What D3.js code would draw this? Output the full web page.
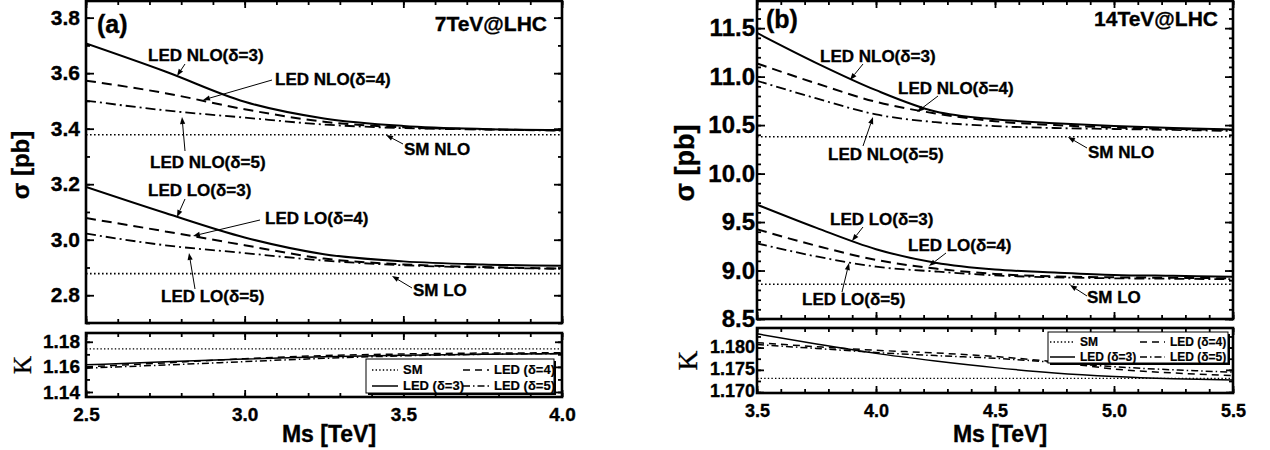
<!DOCTYPE html>
<html>
<head>
<meta charset="utf-8">
<script src="https://cdn.jsdelivr.net/npm/d3@7"></script>
<style>
body { margin: 0; background: #fff; }
text { font-family: "Liberation Sans", Arial, sans-serif; font-weight: bold; fill: #000; stroke: #000; stroke-width: 0.35px; }
</style>
</head>
<body>
<svg id="chart" width="1270" height="450"></svg>
<script>
// ---- panel (a): 7 TeV ----
const msA    = [2.5, 2.75, 3.0, 3.25, 3.5, 3.75, 4.0];
const nloA3  = [3.707, 3.606, 3.497, 3.437, 3.410, 3.399, 3.395];
const nloA4  = [3.573, 3.528, 3.470, 3.425, 3.405, 3.398, 3.394];
const nloA5  = [3.501, 3.466, 3.440, 3.415, 3.402, 3.397, 3.393];
const smNloA = [3.378, 3.378, 3.378, 3.378, 3.378, 3.378, 3.378];
const loA3   = [3.190, 3.096, 3.008, 2.948, 2.922, 2.911, 2.906];
const loA4   = [3.078, 3.030, 2.980, 2.932, 2.911, 2.902, 2.896];
const loA5   = [3.022, 2.980, 2.952, 2.925, 2.908, 2.900, 2.895];
const smLoA  = [2.878, 2.878, 2.878, 2.878, 2.878, 2.878, 2.878];
const kA3    = [1.1616, 1.1640, 1.1662, 1.1680, 1.1692, 1.1700, 1.1705];
const kA4    = [1.1600, 1.1632, 1.1665, 1.1690, 1.1703, 1.1710, 1.1712];
const kA5    = [1.1590, 1.1615, 1.1642, 1.1668, 1.1688, 1.1700, 1.1706];
const kSmA   = [1.1744, 1.1744, 1.1744, 1.1744, 1.1744, 1.1744, 1.1744];

// ---- panel (b): 14 TeV ----
const msB    = [3.5, 3.75, 4.0, 4.25, 4.5, 4.75, 5.0, 5.25, 5.5];
const nloB3  = [11.45, 11.14, 10.86, 10.64, 10.56, 10.52, 10.49, 10.47, 10.455];
const nloB4  = [11.136, 10.93, 10.74, 10.62, 10.54, 10.50, 10.475, 10.46, 10.45];
const nloB5  = [10.957, 10.775, 10.61, 10.53, 10.49, 10.47, 10.46, 10.45, 10.44];
const smNloB = [10.38, 10.38, 10.38, 10.38, 10.38, 10.38, 10.38, 10.38, 10.38];
const loB3   = [9.68, 9.44, 9.22, 9.08, 9.01, 8.98, 8.955, 8.945, 8.936];
const loB4   = [9.425, 9.255, 9.11, 9.02, 8.965, 8.94, 8.93, 8.925, 8.92];
const loB5   = [9.28, 9.145, 9.04, 8.99, 8.95, 8.93, 8.92, 8.915, 8.91];
const smLoB  = [8.858, 8.858, 8.858, 8.858, 8.858, 8.858, 8.858, 8.858, 8.858];
const kB3    = [1.1831, 1.1808, 1.1787, 1.1770, 1.1755, 1.1743, 1.1735, 1.1730, 1.1727];
const kB4    = [1.1811, 1.1802, 1.1794, 1.1788, 1.1780, 1.1768, 1.1752, 1.1743, 1.1737];
const kB5    = [1.1807, 1.1798, 1.1789, 1.1782, 1.1776, 1.1767, 1.1757, 1.1750, 1.1745];
const kSmB   = [1.1731, 1.1731, 1.1731, 1.1731, 1.1731, 1.1731, 1.1731, 1.1731, 1.1731];

// tick labels
const xTicksA = [2.5, 3.0, 3.5, 4.0];
const yTicksA = [2.8, 3.0, 3.2, 3.4, 3.6, 3.8];
const kTicksA = [1.14, 1.16, 1.18];
const xTicksB = [3.5, 4.0, 4.5, 5.0, 5.5];
const yTicksB = [8.5, 9.0, 9.5, 10.0, 10.5, 11.0, 11.5];
const kTicksB = [1.170, 1.175, 1.180];

const legendLabels = ["SM", "LED (\u03b4=4)", "LED (\u03b4=3)", "LED (\u03b4=5)"];

const dashes = { solid: null, dash: "10,6", dashdot: "10,4,2,4", dot: "1.6,2.4" };
const dashesK = { solid: null, dash: "7,5", dashdot: "7,3,1.5,3", dot: "1.4,2.2" };

const svg = d3.select("#chart");

/* draw one of the two panels: cross section plot on top, K factor below */
function drawPanel(p) {
    const x = d3.scaleLinear().domain(p.xDomain).range([p.left, p.right]);
    const y = d3.scaleLinear().domain(p.yDomain).range([p.yBottom, p.yTop]);
    const yk = d3.scaleLinear().domain(p.kDomain).range([p.kBottom, p.kTop]);

    const g = svg.append("g");

    svg.append("clipPath").attr("id", p.id + "-clipT")
        .append("rect").attr("x", p.left).attr("y", p.yTop)
        .attr("width", p.right - p.left).attr("height", p.yBottom - p.yTop);
    svg.append("clipPath").attr("id", p.id + "-clipK")
        .append("rect").attr("x", p.left).attr("y", p.kTop)
        .attr("width", p.right - p.left).attr("height", p.kBottom - p.kTop);

    const lineT = d3.line().x(d => x(d[0])).y(d => y(d[1])).curve(d3.curveMonotoneX);
    const lineK = d3.line().x(d => x(d[0])).y(d => yk(d[1])).curve(d3.curveMonotoneX);

    const gt = g.append("g").attr("clip-path", `url(#${p.id}-clipT)`);
    p.series.forEach(s => {
        gt.append("path")
            .datum(p.ms.map((m, i) => [m, s.values[i]]))
            .attr("d", lineT)
            .attr("fill", "none")
            .attr("stroke", "#000")
            .attr("stroke-width", s.style === "dot" ? 1.6 : (s.style === "dashdot" ? 1.8 : 2))
            .attr("stroke-dasharray", dashes[s.style]);
    });

    const gk = g.append("g").attr("clip-path", `url(#${p.id}-clipK)`);
    p.kSeries.forEach(s => {
        gk.append("path")
            .datum(p.ms.map((m, i) => [m, s.values[i]]))
            .attr("d", lineK)
            .attr("fill", "none")
            .attr("stroke", "#000")
            .attr("stroke-width", s.style === "dot" ? 1.3 : 1.5)
            .attr("stroke-dasharray", dashesK[s.style]);
    });

    // axes, ticks pointing inward on all four sides
    const xMinor = d3.range(p.xDomain[0], p.xDomain[1] + 1e-9, 0.1);
    const yMinor = d3.range(p.yTicks[0] - p.yMinorStep * Math.floor((p.yTicks[0] - p.yDomain[0]) / p.yMinorStep + 1e-9),
                            p.yDomain[1], p.yMinorStep);
    const kMinor = d3.range(p.kTicks[0], p.kDomain[1], p.kMinorStep);

    function axis(gen, scale, vals, size, tx, ty, fmt, fontSize) {
        const a = g.append("g")
            .attr("transform", `translate(${tx},${ty})`)
            .call(gen(scale).tickValues(vals).tickSize(-size).tickPadding(fmt ? p.pad : 0)
                .tickFormat(fmt ? fmt : ""));
        a.select(".domain").remove();
        a.selectAll("line").attr("stroke", "#000").attr("stroke-width", 1.8);
        a.selectAll("text").style("font-size", fontSize + "px")
            .style("font-family", '"Liberation Sans", Arial, sans-serif').style("font-weight", "bold");
        return a;
    }

    // top plot
    axis(d3.axisLeft, y, yMinor, 4, p.left, 0);
    axis(d3.axisLeft, y, p.yTicks, 8, p.left, 0, d3.format(p.yFmt), p.yFont);
    axis(d3.axisRight, y, yMinor, 4, p.right, 0);
    axis(d3.axisRight, y, p.yTicks, 8, p.right, 0);
    axis(d3.axisBottom, x, xMinor, 4, 0, p.yBottom);
    axis(d3.axisBottom, x, p.xTicks, 7, 0, p.yBottom);
    axis(d3.axisTop, x, xMinor, 4, 0, p.yTop);
    axis(d3.axisTop, x, p.xTicks, 7, 0, p.yTop);

    // K plot
    axis(d3.axisLeft, yk, kMinor, 4, p.left, 0);
    const ka = axis(d3.axisLeft, yk, p.kTicks, 7, p.left, 0, d3.format(p.kFmt), p.kFont);
    ka.selectAll("text").attr("dy", p.kDy);
    axis(d3.axisRight, yk, kMinor, 4, p.right, 0);
    axis(d3.axisRight, yk, p.kTicks, 7, p.right, 0);
    axis(d3.axisBottom, x, xMinor, 4, 0, p.kBottom);
    const xa = axis(d3.axisBottom, x, p.xTicks, 7, 0, p.kBottom, d3.format(".1f"), p.xFont);
    xa.selectAll("text").attr("dy", p.xDy);
    axis(d3.axisTop, x, xMinor, 4, 0, p.kTop);
    axis(d3.axisTop, x, p.xTicks, 7, 0, p.kTop);

    // frames
    [[p.yTop, p.yBottom], [p.kTop, p.kBottom]].forEach(r => {
        g.append("rect")
            .attr("x", p.left).attr("y", r[0])
            .attr("width", p.right - p.left).attr("height", r[1] - r[0])
            .attr("fill", "none").attr("stroke", "#000").attr("stroke-width", 2.6);
    });

    // axis titles
    g.append("text")
        .attr("transform", `translate(${p.sigmaX},${(p.yTop + p.yBottom) / 2 + 3}) rotate(-90)`)
        .attr("text-anchor", "middle").style("font-size", p.sigmaFont + "px")
        .text("\u03c3 [pb]");
    g.append("text")
        .attr("transform", `translate(${p.kLabelX},${(p.kTop + p.kBottom) / 2}) rotate(-90)`)
        .attr("text-anchor", "middle")
        .style("font-family", '"Liberation Serif", "Times New Roman", serif')
        .style("font-weight", "normal")
        .style("font-size", p.kLabelFont + "px")
        .text("K");
    g.append("text")
        .attr("x", (p.left + p.right) / 2 + 5).attr("y", 442)
        .attr("text-anchor", "middle").style("font-size", "23px")
        .text("Ms [TeV]");

    g.append("text").attr("x", p.left + p.tagDx).attr("y", p.tagY)
        .style("font-size", "25px").text(p.tag);
    g.append("text").attr("x", p.right - p.energyDx).attr("y", p.energyY)
        .attr("text-anchor", "end").style("font-size", "21px").text(p.energy);

    // annotations with arrows
    p.notes.forEach(n => {
        g.append("text").attr("x", n[1]).attr("y", n[2])
            .style("font-size", "17px").text(n[0]);
        const x1 = n[3], y1 = n[4], x2 = n[5], y2 = n[6];
        const ang = Math.atan2(y2 - y1, x2 - x1);
        const hl = 7, hw = 2.6;
        const bx = x2 - hl * Math.cos(ang), by = y2 - hl * Math.sin(ang);
        g.append("line").attr("x1", x1).attr("y1", y1).attr("x2", bx).attr("y2", by)
            .attr("stroke", "#000").attr("stroke-width", 1);
        g.append("path")
            .attr("d", `M${x2},${y2}L${bx - hw * Math.sin(ang)},${by + hw * Math.cos(ang)}L${bx + hw * Math.sin(ang)},${by - hw * Math.cos(ang)}Z`)
            .attr("fill", "#000");
    });

    // legend inside the K plot
    const L = p.legend;
    g.append("rect").attr("x", L.x + 2).attr("y", L.y + 2).attr("width", L.w).attr("height", L.h)
        .attr("fill", "#000");
    g.append("rect").attr("x", L.x).attr("y", L.y).attr("width", L.w).attr("height", L.h)
        .attr("fill", "#fff").attr("stroke", "#000").attr("stroke-width", 1);
    const legStyles = ["dot", "dash", "solid", "dashdot"];
    legStyles.forEach((st, i) => {
        const col = i % 2, row = Math.floor(i / 2);
        const lx = L.x + L.pad + col * L.colW;
        const ly = L.y + L.rowY[row];
        g.append("line").attr("x1", lx).attr("x2", lx + L.sample)
            .attr("y1", ly - 4).attr("y2", ly - 4)
            .attr("stroke", "#000").attr("stroke-width", st === "dot" ? 1.3 : 1.5)
            .attr("stroke-dasharray", dashesK[st]);
        g.append("text").attr("x", lx + L.sample + L.gap).attr("y", ly)
            .style("font-size", L.font + "px").style("stroke-width", "0.2px").text(legendLabels[i]);
    });
}

drawPanel({
    id: "a", ms: msA,
    left: 86, right: 562, yTop: 1, yBottom: 323, kTop: 333, kBottom: 397,
    xDomain: [2.5, 4.0], yDomain: [2.7, 3.86], kDomain: [1.136, 1.187],
    xTicks: xTicksA, yTicks: yTicksA, kTicks: kTicksA,
    yMinorStep: 0.1, kMinorStep: 0.01,
    yFmt: ".1f", kFmt: ".2f", yFont: 21, kFont: 19, xFont: 19, xDy: "0.95em", kDy: "0.32em", pad: 6,
    series: [
        { values: nloA3, style: "solid" }, { values: nloA4, style: "dash" },
        { values: nloA5, style: "dashdot" }, { values: smNloA, style: "dot" },
        { values: loA3, style: "solid" }, { values: loA4, style: "dash" },
        { values: loA5, style: "dashdot" }, { values: smLoA, style: "dot" }
    ],
    kSeries: [
        { values: kSmA, style: "dot" }, { values: kA3, style: "solid" },
        { values: kA4, style: "dash" }, { values: kA5, style: "dashdot" }
    ],
    sigmaX: 29, sigmaFont: 24, kLabelX: 31, kLabelFont: 25,
    tag: "(a)", tagDx: 11, tagY: 33, energy: "7TeV@LHC", energyDx: 15, energyY: 31,
    notes: [
        ["LED NLO(\u03b4=3)", 148, 61, 185, 64, 177, 76],
        ["LED NLO(\u03b4=4)", 275, 85, 272, 80, 203, 100],
        ["LED NLO(\u03b4=5)", 150, 168, 185, 151, 182, 117],
        ["SM NLO", 404, 155, 403, 144, 386, 135],
        ["LED LO(\u03b4=3)", 148, 196, 185, 199, 177, 217],
        ["LED LO(\u03b4=4)", 265, 224, 260, 220, 193, 236],
        ["LED LO(\u03b4=5)", 161, 302, 195, 289, 189, 253],
        ["SM LO", 413, 296, 412, 288, 392, 276]
    ],
    legend: { x: 366, y: 359, w: 188, h: 34, pad: 6, colW: 91, sample: 26, gap: 5, rowY: [15, 31], font: 13 }
});

drawPanel({
    id: "b", ms: msB,
    left: 757, right: 1233, yTop: 1, yBottom: 319, kTop: 328, kBottom: 393,
    xDomain: [3.5, 5.5], yDomain: [8.5, 11.78], kDomain: [1.1698, 1.1844],
    xTicks: xTicksB, yTicks: yTicksB, kTicks: kTicksB,
    yMinorStep: 0.1, kMinorStep: 0.0025,
    yFmt: ".1f", kFmt: ".3f", yFont: 24, kFont: 18, xFont: 18, xDy: "21.5px", kDy: "0.25em", pad: 2,
    series: [
        { values: nloB3, style: "solid" }, { values: nloB4, style: "dash" },
        { values: nloB5, style: "dashdot" }, { values: smNloB, style: "dot" },
        { values: loB3, style: "solid" }, { values: loB4, style: "dash" },
        { values: loB5, style: "dashdot" }, { values: smLoB, style: "dot" }
    ],
    kSeries: [
        { values: kSmB, style: "dot" }, { values: kB3, style: "solid" },
        { values: kB4, style: "dash" }, { values: kB5, style: "dashdot" }
    ],
    sigmaX: 694, sigmaFont: 27, kLabelX: 697, kLabelFont: 27,
    tag: "(b)", tagDx: 9, tagY: 28, energy: "14TeV@LHC", energyDx: 15, energyY: 26,
    notes: [
        ["LED NLO(\u03b4=3)", 820, 62, 863, 64, 850, 80],
        ["LED NLO(\u03b4=4)", 898, 94, 938, 96, 917, 112],
        ["LED NLO(\u03b4=5)", 828, 160, 863, 146, 873, 117],
        ["SM NLO", 1088, 158, 1087, 148, 1068, 137],
        ["LED LO(\u03b4=3)", 830, 225, 863, 227, 852, 241],
        ["LED LO(\u03b4=4)", 908, 251, 946, 253, 929, 266],
        ["LED LO(\u03b4=5)", 802, 305, 842, 292, 849, 263],
        ["SM LO", 1087, 303, 1087, 296, 1070, 285]
    ],
    legend: { x: 1048, y: 332, w: 180, h: 31, pad: 2, colW: 90, sample: 25, gap: 5, rowY: [14, 29], font: 12 }
});
</script>
</body>
</html>
